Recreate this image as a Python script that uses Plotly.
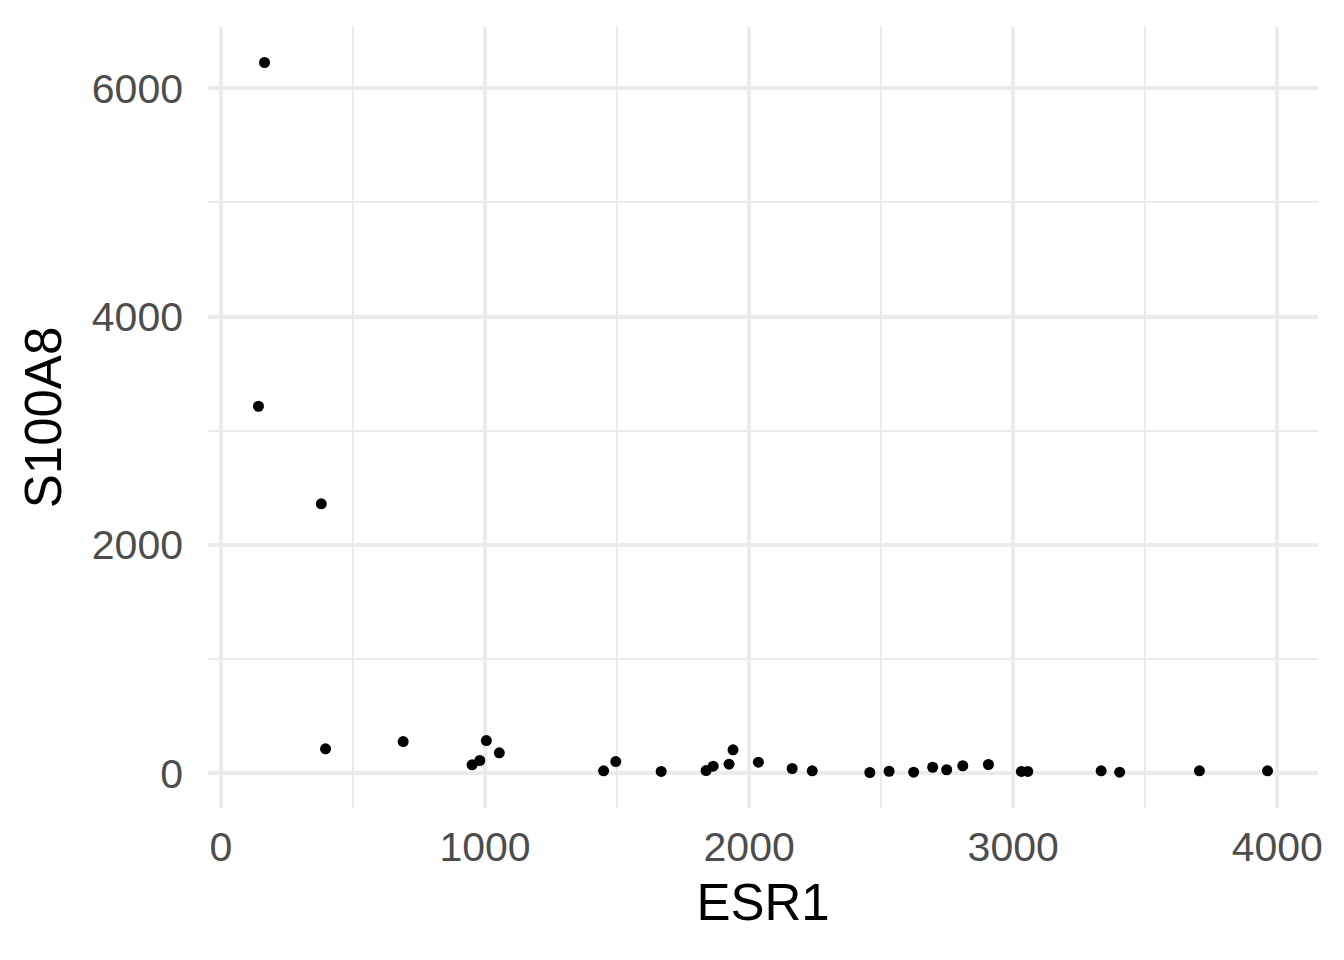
import plotly.graph_objects as go

esr1 = [165, 142, 380, 396, 690, 1005, 1054, 980, 951, 1449, 1495,
        1667, 1837, 1864, 1924, 1939, 2035, 2163, 2239, 2457, 2530,
        2623, 2695, 2748, 2809, 2906, 3031, 3055, 3333, 3403, 3705, 3963]
s100a8 = [6225, 3215, 2361, 215, 279, 288, 180, 113, 75, 23, 104,
          17, 25, 63, 81, 207, 98, 43, 23, 8, 19,
          11, 54, 32, 67, 78, 17, 17, 23, 11, 23, 23]

x_ticks = [0, 1000, 2000, 3000, 4000]
y_ticks = [0, 2000, 4000, 6000]


def expand(vals, frac=0.05):
    lo, hi = min(vals), max(vals)
    span = hi - lo
    return [lo - frac * span, hi + frac * span]


fig = go.Figure()
fig.add_trace(go.Scatter(
    x=esr1, y=s100a8, mode="markers",
    marker=dict(color="black", size=11, line=dict(width=0)),
    showlegend=False,
))

grid_major = "#EBEBEB"
# page body has an 8px default margin, so the figure is sized to fit the window
fig.update_layout(
    width=1336, height=952,
    paper_bgcolor="white", plot_bgcolor="white",
    margin=dict(l=200, r=26, t=19, b=152),
    font=dict(family="Liberation Sans, Arial, sans-serif", color="black"),
    xaxis=dict(
        range=expand(esr1), tickvals=x_ticks,
        ticktext=[str(v) for v in x_ticks],
        showgrid=True, gridcolor=grid_major, gridwidth=4,
        zeroline=False, showline=False, ticks="",
        tickfont=dict(size=41, color="#4D4D4D"),
        ticklabelstandoff=11,
        minor=dict(tickvals=[500, 1500, 2500, 3500], showgrid=True,
                   gridcolor=grid_major, gridwidth=2),
        title=dict(text="ESR1", font=dict(size=51, color="black"), standoff=15),
    ),
    yaxis=dict(
        range=expand(s100a8), tickvals=y_ticks,
        ticktext=[str(v) for v in y_ticks],
        showgrid=True, gridcolor=grid_major, gridwidth=4,
        zeroline=False, showline=False, ticks="",
        tickfont=dict(size=41, color="#4D4D4D"),
        ticklabelstandoff=24,
        minor=dict(tickvals=[1000, 3000, 5000], showgrid=True,
                   gridcolor=grid_major, gridwidth=2),
        title=dict(text="S100A8", font=dict(size=51, color="black"), standoff=13),
    ),
)

fig.write_html("out.html")
